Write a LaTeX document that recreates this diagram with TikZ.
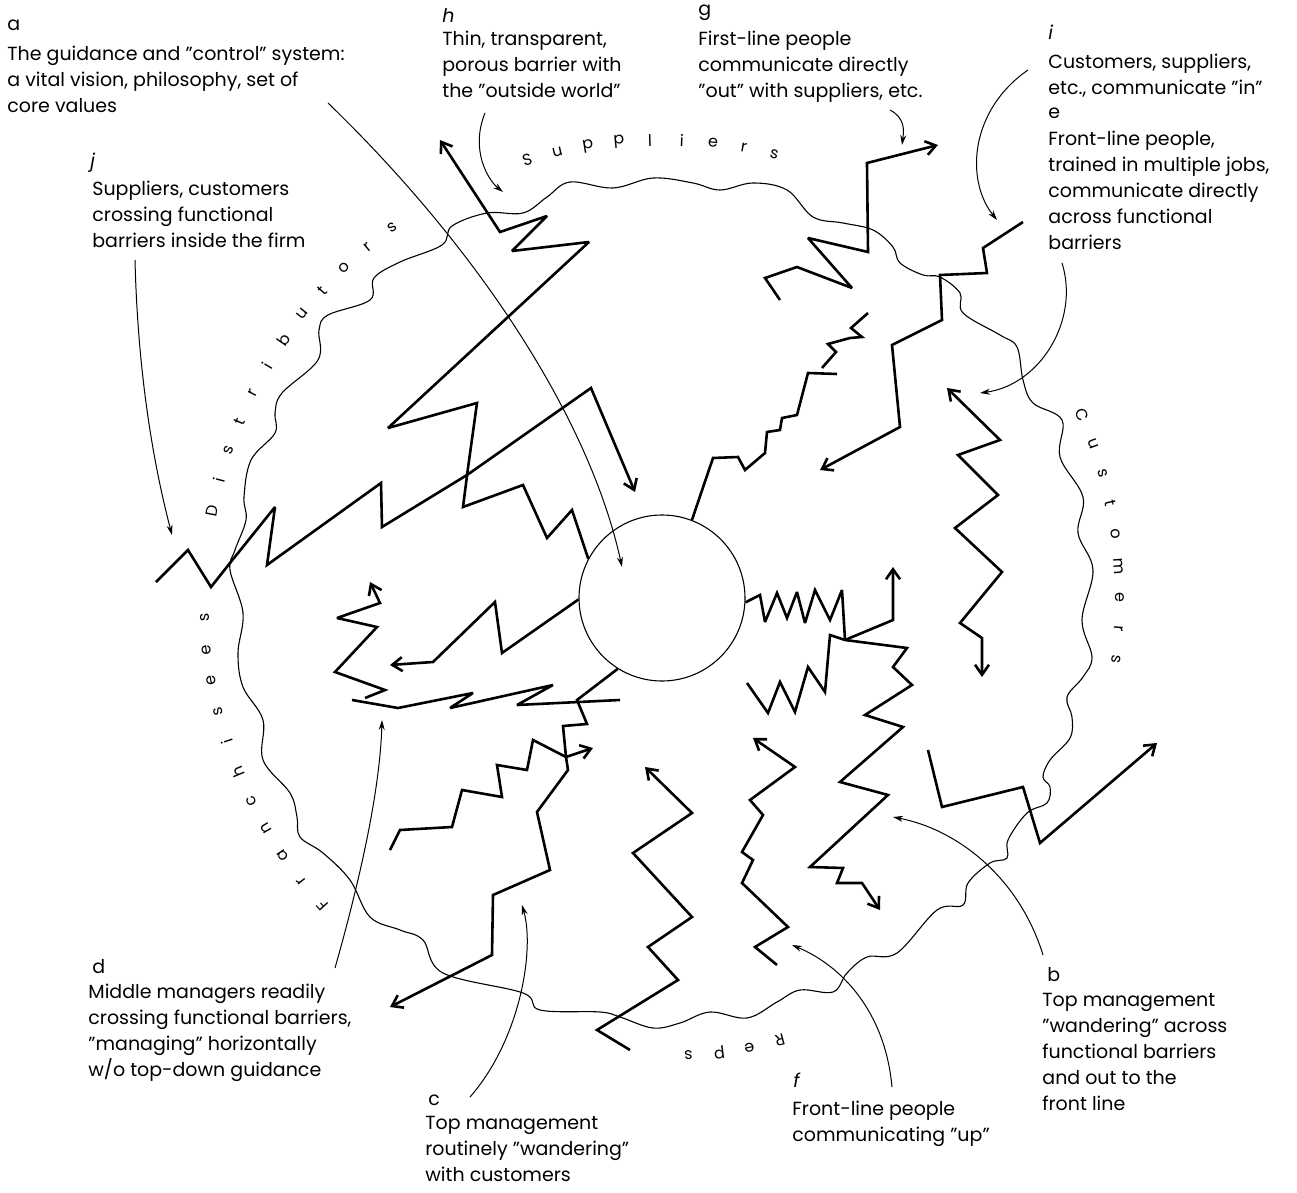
\documentclass[tikz,border=0pt]{standalone}
\usepackage{fontspec}
\setmainfont{Poppins}
\usetikzlibrary{arrows.meta}

\newlength{\du}
\setlength{\du}{0.5pt}

\newcommand{\blurbfont}{\fontsize{9.5}{13}\selectfont}
\newcommand{\ringfont}{\fontsize{8}{8}\selectfont}
% one letter of a ring word, set on the circle round the core
\newcommand{\ringchar}[3]{\node[ringletter,rotate=#2-90] (#1) at ({662+458*cos(#2)},{598-458*sin(#2)}) {#3};}

\tikzset{
  barrier/.style={line width=0.55pt},
  flow/.style={line width=1.3pt, line join=miter, miter limit=3},
  flowtip/.style={flow, -{Straight Barb[length=5pt,width=7pt]}},
  flowtips/.style={flow, {Straight Barb[length=5pt,width=7pt]}-{Straight Barb[length=5pt,width=7pt]}},
  callout/.style={line width=0.5pt, -{Stealth[length=5pt,width=3pt]}},
  blurb/.style={anchor=north west, inner sep=0pt, align=left, font=\blurbfont},
  tag/.style={anchor=west, inner sep=0pt, font=\blurbfont},
  ringletter/.style={inner sep=0pt, font=\ringfont},
}

\begin{document}
\begin{tikzpicture}[x=\du,y=\du]
\pgftransformxscale{1.000000}
\pgftransformyscale{-1.000000}
\useasboundingbox (0,0) rectangle (1297,1193);

% the core
\node[draw, circle, barrier, inner sep=0pt, minimum size=166\du] (core) at (662,598) {};

% porous barrier
\draw[barrier] plot[smooth cycle, tension=0.6] coordinates {
(400,262) (442,245) (452,226) (487,213) (523,213) (547,197) (570,182) (613,188)
(653,178) (693,183) (720,190) (753,183) (787,190) (813,217) (843,223) (873,230)
(893,247) (900,263) (923,275) (940,277) (960,293) (963,313) (1000,335) (1017,347)
(1023,380) (1033,403) (1062,420) (1060,457) (1083,497) (1078,533) (1093,570)
(1082,620) (1092,657) (1083,677) (1067,697) (1072,717) (1070,738) (1050,760)
(1043,777) (1050,787) (1047,803) (1027,813) (1008,840) (1007,858) (990,863)
(968,883) (963,905) (937,910) (897,953) (867,957) (847,973) (833,992) (800,990)
(777,1002) (747,1018) (710,1012) (680,1023) (653,1028) (620,1017) (600,1012)
(540,1010) (523,993) (443,973) (423,940) (400,930) (370,917) (350,880) (323,853)
(300,837) (297,817) (290,793) (263,760) (263,720) (243,687) (238,653) (243,613)
(230,570) (235,550) (246,520) (244,497) (251,460) (275,433) (275,413) (282,393)
(318,360) (319,330) (328,315) (370,300) (374,278)};

% ring words
\ringchar{sup1}{107.1}{S}
\ringchar{sup2}{103.2}{u}
\ringchar{sup3}{99.3}{p}
\ringchar{sup4}{95.4}{p}
\ringchar{sup5}{91.5}{l}
\ringchar{sup6}{87.5}{i}
\ringchar{sup7}{83.6}{e}
\ringchar{sup8}{79.7}{r}
\ringchar{sup9}{75.8}{s}
\ringchar{cus1}{23.6}{C}
\ringchar{cus2}{19.7}{u}
\ringchar{cus3}{15.8}{s}
\ringchar{cus4}{11.9}{t}
\ringchar{cus5}{8.0}{o}
\ringchar{cus6}{4.0}{m}
\ringchar{cus7}{0.1}{e}
\ringchar{cus8}{-3.8}{r}
\ringchar{cus9}{-7.7}{s}
\ringchar{rep1}{-75.1}{R}
\ringchar{rep2}{-79.0}{e}
\ringchar{rep3}{-82.8}{p}
\ringchar{rep4}{-86.7}{s}
\ringchar{fra1}{222.1}{F}
\ringchar{fra2}{218.1}{r}
\ringchar{fra3}{214.2}{a}
\ringchar{fra4}{210.2}{n}
\ringchar{fra5}{206.3}{c}
\ringchar{fra6}{202.3}{h}
\ringchar{fra7}{198.3}{i}
\ringchar{fra8}{194.4}{s}
\ringchar{fra9}{190.4}{e}
\ringchar{fra10}{186.5}{e}
\ringchar{fra11}{182.5}{s}
\ringchar{dis1}{169.0}{D}
\ringchar{dis2}{165.1}{i}
\ringchar{dis3}{161.2}{s}
\ringchar{dis4}{157.3}{t}
\ringchar{dis5}{153.4}{r}
\ringchar{dis6}{149.5}{i}
\ringchar{dis7}{145.6}{b}
\ringchar{dis8}{141.7}{u}
\ringchar{dis9}{137.8}{t}
\ringchar{dis10}{133.9}{o}
\ringchar{dis11}{130.0}{r}
\ringchar{dis12}{126.1}{s}

% communication lines
\draw[flowtip] (156,582) -- (188,550) -- (211,587) -- (230,563) -- (275,507) -- (267,565)
  -- (381,483) -- (382,527) -- (467,475) -- (591,388) -- (635,492);
\draw[flowtip] (core.152) -- (572,510) -- (547,538) -- (523,485) -- (463,507) -- (468,468)
  -- (477,403) -- (388,428) -- (589,242) -- (512,251) -- (547,216) -- (500,232) -- (440,140);
\draw[flowtip] (core.181) -- (502,653) -- (495,602) -- (433,662) -- (390,665);
\draw[flowtip] (365,698) -- (385,690) -- (335,672) -- (377,627) -- (337,618) -- (380,603) -- (370,582);
\draw[flow] (352,700) -- (398,708) -- (473,693) -- (450,708) -- (553,685) -- (517,705) -- (620,700);
\draw[flow] (core.238) -- (577,700) -- (587,724) -- (563,726) -- (566,757) coordinate (dJoin);
\draw[flowtip] (dJoin) -- (593,748);
\draw[flowtip] (dJoin) -- (568,770) -- (537,812) -- (550,870) -- (493,895) -- (492,955) -- (390,1007);
\draw[flow] (390,850) -- (400,830) -- (452,827) -- (462,790) -- (502,797) -- (497,765)
  -- (527,770) -- (533,740) -- (dJoin);
\draw[flow] (core.-3) -- (760,595) -- (765,622) -- (777,593) -- (787,618) -- (797,592)
  -- (805,623) -- (815,590) -- (830,620) -- (842,590) -- (845,640) coordinate (bJoin);
\draw[flowtip] (bJoin) -- (893,620) -- (893,567);
\draw[flow] (747,683) -- (768,713) -- (780,682) -- (795,712) -- (808,667) -- (825,692)
  -- (830,635) -- (bJoin);
\draw[flowtip] (bJoin) -- (907,648) -- (893,667) -- (912,685) -- (865,715) -- (903,727)
  -- (840,782) -- (888,795) -- (810,867) -- (843,868) -- (837,883) -- (862,883) -- (880,910);
\draw[flowtip] (780,300) -- (765,278) -- (797,267) -- (852,288) -- (808,238) -- (868,252)
  -- (867,163) -- (938,145);
\draw[flowtip] (1023,222) -- (983,248) -- (987,273) -- (940,275) -- (942,320) -- (892,345)
  -- (900,427) -- (820,470);
\draw[flow] (core.69) -- (713,458) -- (738,457) -- (745,470) -- (765,453) -- (767,432)
  -- (780,430) -- (782,418) -- (797,415) -- (808,373) -- (837,374);
\draw[flow] (822,368) -- (836,352) -- (828,344) -- (850,338) -- (862,337) -- (851,328) -- (868,313);
\draw[flowtips] (947,388) -- (1000,440) -- (958,455) -- (998,495) -- (955,528) -- (1002,572)
  -- (960,623) -- (982,638) -- (982,677);
\draw[flowtip] (928,750) -- (942,807) -- (1023,787) -- (1040,843) -- (1157,743);
\draw[flowtip] (777,965) -- (755,947) -- (788,927) -- (742,883) -- (753,860) -- (742,852)
  -- (763,815) -- (750,800) -- (795,767) -- (753,738);
\draw[flowtip] (630,1050) -- (597,1030) -- (678,980) -- (648,947) -- (692,917) -- (633,853)
  -- (692,813) -- (645,767);

% captions
\node[tag] (tagA) at (7,25) {a};
\node[blurb] (txtA) at (7,46) {The guidance and ''control'' system:\\a vital vision, philosophy, set of\\core values};
\node[tag] (tagJ) at (90,163) {\itshape j};
\node[blurb] (txtJ) at (92,181) {Suppliers, customers\\crossing functional\\barriers inside the firm};
\node[tag] (tagH) at (442,15) {\itshape h};
\node[blurb] (txtH) at (442,31) {Thin, transparent,\\porous barrier with\\the ''outside world''};
\node[tag] (tagG) at (698,13) {g};
\node[blurb] (txtG) at (698,31) {First-line people\\communicate directly\\''out'' with suppliers, etc.};
\node[tag] (tagI) at (1048,32) {\itshape i};
\node[blurb] (txtI) at (1048,54) {Customers, suppliers,\\etc., communicate ''in''};
\node[tag] (tagE) at (1048,113) {e};
\node[blurb] (txtE) at (1048,131) {Front-line people,\\trained in multiple jobs,\\communicate directly\\across functional\\barriers};
\node[tag] (tagD) at (92,967) {d};
\node[blurb] (txtD) at (88,984) {Middle managers readily\\crossing functional barriers,\\''managing'' horizontally\\w/o top-down guidance};
\node[tag] (tagC) at (428,1100) {c};
\node[blurb] (txtC) at (425,1116) {Top management\\routinely ''wandering''\\with customers};
\node[tag] (tagF) at (793,1080) {\itshape f};
\node[blurb] (txtF) at (792,1101) {Front-line people\\communicating ''up''};
\node[tag] (tagB) at (1047,975) {b};
\node[blurb] (txtB) at (1042,993) {Top management\\''wandering'' across\\functional barriers\\and out to the\\front line};

% caption pointers
\coordinate (aFrom) at (328,103);
\coordinate (aTo) at (622,567);
\draw[callout] (aFrom) .. controls (480,250) and (590,420) .. (aTo);
\coordinate (hFrom) at (485,113);
\coordinate (hTo) at (503,192);
\draw[callout] (hFrom) .. controls (470,150) and (488,180) .. (hTo);
\coordinate (gFrom) at (890,110);
\coordinate (gTo) at (902,145);
\draw[callout] (gFrom) .. controls (905,118) and (904,130) .. (gTo);
\coordinate (iFrom) at (1028,70);
\coordinate (iTo) at (997,220);
\draw[callout] (iFrom) .. controls (970,110) and (965,180) .. (iTo);
\coordinate (eFrom) at (1062,263);
\coordinate (eTo) at (980,393);
\draw[callout] (eFrom) .. controls (1080,320) and (1040,385) .. (eTo);
\coordinate (jFrom) at (135,260);
\coordinate (jTo) at (172,535);
\draw[callout] (jFrom) .. controls (138,380) and (155,470) .. (jTo);
\coordinate (dFrom) at (335,968);
\coordinate (dTo) at (382,720);
\draw[callout] (dFrom) .. controls (360,880) and (380,790) .. (dTo);
\coordinate (cFrom) at (470,1097);
\coordinate (cTo) at (522,905);
\draw[callout] (cFrom) .. controls (520,1040) and (535,950) .. (cTo);
\coordinate (fFrom) at (892,1087);
\coordinate (fTo) at (792,945);
\draw[callout] (fFrom) .. controls (885,1010) and (840,965) .. (fTo);
\coordinate (bFrom) at (1043,955);
\coordinate (bTo) at (893,817);
\draw[callout] (bFrom) .. controls (1020,880) and (960,830) .. (bTo);
\end{tikzpicture}
\end{document}
